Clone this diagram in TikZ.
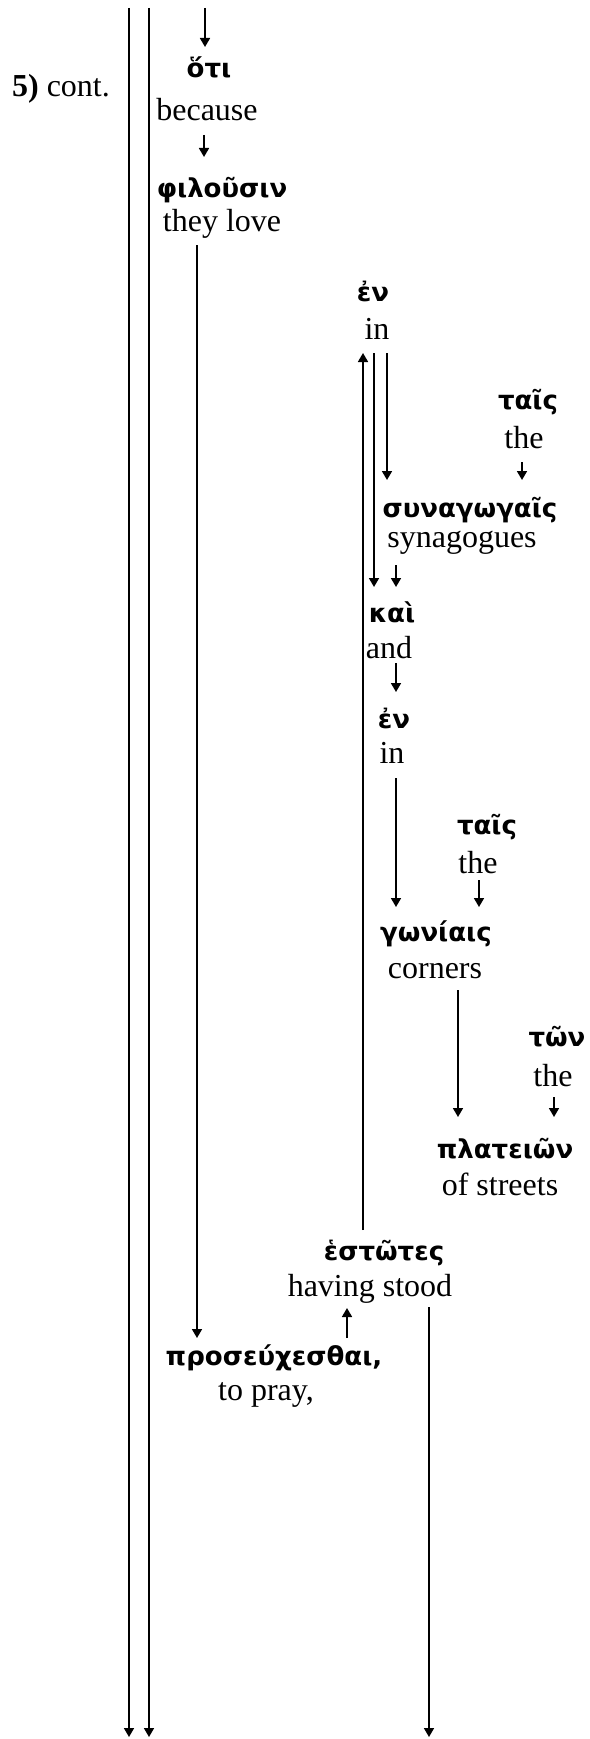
\documentclass[tikz,border=0pt]{standalone}
\usepackage{fontspec}
\setmainfont{Liberation Serif}
\newfontfamily\grk{DejaVu Sans}
\usetikzlibrary{arrows.meta,calc}
\begin{document}
\begin{tikzpicture}[x=1pt,y=-1pt,
  eng/.style={inner sep=0pt, font=\fontsize{32}{36}\selectfont},
  gr/.style={inner sep=0pt, font=\grk\bfseries\fontsize{26}{30}\selectfont},
  arr/.style={line width=1.7pt, -{Triangle[length=9pt,width=10pt]}},
  rule/.style={line width=1.7pt}]
\path[use as bounding box] (0,0) rectangle (589,1739);

% words (Greek above, English gloss below)
\node[eng] (cont) at (61,89) {\textbf{5)} cont.};
\node[gr]  (oti) at (209,67) {ὅτι};
\node[eng] (oti_en) at (207,110) {because};
\node[gr]  (philousin) at (222,190) {φιλοῦσιν};
\node[eng] (philousin_en) at (222,224) {they love};
\node[gr]  (en1) at (373,291) {ἐν};
\node[eng] (en1_en) at (377,329) {in};
\node[gr]  (tais1) at (528,402) {ταῖς};
\node[eng] (tais1_en) at (524,438) {the};
\node[gr]  (synag) at (470,510) {συναγωγαῖς};
\node[eng] (synag_en) at (462,543) {synagogues};
\node[gr]  (kai) at (392,612) {καὶ};
\node[eng] (kai_en) at (389,648) {and};
\node[gr]  (en2) at (394,718) {ἐν};
\node[eng] (en2_en) at (392,753) {in};
\node[gr]  (tais2) at (487,827) {ταῖς};
\node[eng] (tais2_en) at (478,863) {the};
\node[gr]  (gwniais) at (436,934) {γωνίαις};
\node[eng] (gwniais_en) at (435,971) {corners};
\node[gr]  (twn) at (557,1037) {τῶν};
\node[eng] (twn_en) at (553,1076) {the};
\node[gr]  (plateiwn) at (505,1149) {πλατειῶν};
\node[eng] (plateiwn_en) at (500,1184) {of streets};
\node[gr]  (estwtes) at (384,1253) {ἑστῶτες};
\node[eng] (estwtes_en) at (370,1289) {having stood};
\node[gr]  (proseux) at (274,1358) {προσεύχεσθαι,};
\node[eng] (proseux_en) at (266,1395) {to pray,};

% columns of the connectors
\coordinate (cTop) at (205,8);
\coordinate (cOti) at (204,0);
\coordinate (cPhil) at (197,0);
\coordinate (cEnA) at (374,0);
\coordinate (cEnB) at (387,0);
\coordinate (cUp) at (363,0);
\coordinate (cTaisA) at (522,0);
\coordinate (cKai) at (396,0);
\coordinate (cTaisB) at (479,0);
\coordinate (cGwn) at (458,0);
\coordinate (cTwn) at (554,0);
\coordinate (cPros) at (347,0);
\coordinate (cEst) at (429,0);
\coordinate (railAtop) at (129,8);
\coordinate (railAbot) at (129,1737);
\coordinate (railBtop) at (149,8);
\coordinate (railBbot) at (149,1737);
\coordinate (estEnd) at (429,1737);

% the two rails on the left
\draw[arr] (railAtop) -- (railAbot);
\draw[arr] (railBtop) -- (railBbot);

% connectors
\draw[arr] (cTop) -- ($(oti.center -| cTop)+(0,-20)$);
\draw[arr] ($(oti_en.center -| cOti)+(0,25)$) -- ($(philousin.center -| cOti)+(0,-33)$);
\draw[arr] ($(philousin_en.center -| cPhil)+(0,21)$) -- ($(proseux.center -| cPhil)+(0,-20)$);
\draw[arr] ($(en1_en.center -| cEnA)+(0,24)$) -- ($(kai.center -| cEnA)+(0,-25)$);
\draw[arr] ($(en1_en.center -| cEnB)+(0,24)$) -- ($(synag.center -| cEnB)+(0,-30)$);
\draw[arr] ($(estwtes.center -| cUp)+(0,-23)$) -- ($(en1_en.center -| cUp)+(0,24)$);
\draw[arr] ($(tais1_en.center -| cTaisA)+(0,24)$) -- ($(synag.center -| cTaisA)+(0,-30)$);
\draw[arr] ($(synag_en.center -| cKai)+(0,22)$) -- ($(kai.center -| cKai)+(0,-25)$);
\draw[arr] ($(kai_en.center -| cKai)+(0,15)$) -- ($(en2.center -| cKai)+(0,-26)$);
\draw[arr] ($(en2_en.center -| cKai)+(0,25)$) -- ($(gwniais.center -| cKai)+(0,-27)$);
\draw[arr] ($(tais2_en.center -| cTaisB)+(0,17)$) -- ($(gwniais.center -| cTaisB)+(0,-27)$);
\draw[arr] ($(gwniais_en.center -| cGwn)+(0,19)$) -- ($(plateiwn.center -| cGwn)+(0,-32)$);
\draw[arr] ($(twn_en.center -| cTwn)+(0,21)$) -- ($(plateiwn.center -| cTwn)+(0,-32)$);
\draw[arr] ($(proseux.center -| cPros)+(0,-20)$) -- ($(estwtes_en.center -| cPros)+(0,19)$);
\draw[arr] ($(estwtes_en.center -| cEst)+(0,18)$) -- (estEnd);
\end{tikzpicture}
\end{document}
